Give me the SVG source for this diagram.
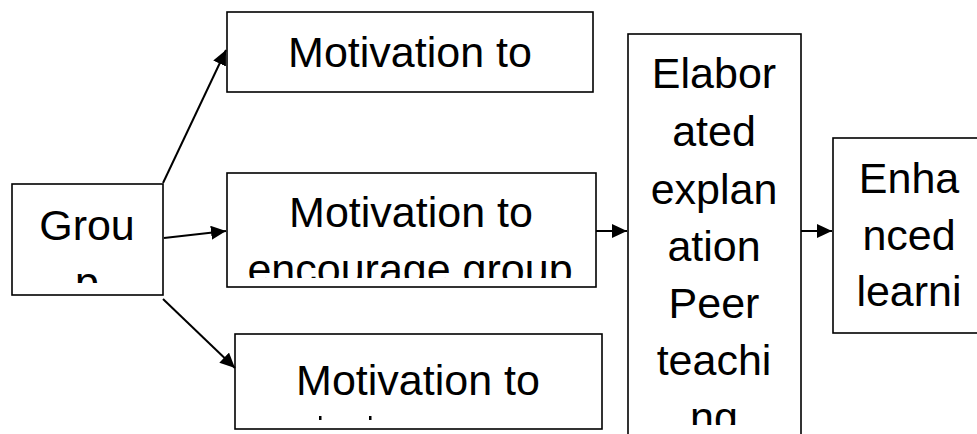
<svg xmlns="http://www.w3.org/2000/svg" width="977" height="434" viewBox="0 0 977 434">
<style>
.box{fill:#fff;stroke:#000;stroke-width:1.6}
.t{font-family:"Liberation Sans",Arial,sans-serif;font-size:43px;fill:#000;text-anchor:middle}
.c{stroke:#000;stroke-width:2;fill:none}
</style>
<defs>
<marker id="ah" markerUnits="userSpaceOnUse" markerWidth="16" markerHeight="14" refX="15" refY="7" orient="auto">
<path d="M0,0 L15,7 L0,14 z" fill="#000"/>
</marker>
<clipPath id="cg"><rect x="12" y="184" width="151" height="99"/></clipPath>
<clipPath id="c1"><rect x="227" y="12" width="366" height="75"/></clipPath>
<clipPath id="c2"><rect x="227" y="173" width="369" height="105"/></clipPath>
<clipPath id="c3"><rect x="235" y="334" width="367" height="86"/></clipPath>
<clipPath id="ce"><rect x="628" y="34" width="173" height="391"/></clipPath>
<clipPath id="ch"><rect x="833" y="138" width="152" height="190"/></clipPath>
</defs>
<rect width="977" height="434" fill="#fff"/>
<g id="group">
<rect class="box" x="12" y="184" width="151" height="111"/>
<g clip-path="url(#cg)"><text class="t" x="87" y="240">Grou</text><text class="t" x="87" y="297">p</text></g>
</g>
<g id="motivation-1">
<rect class="box" x="227" y="12" width="366" height="80"/>
<g clip-path="url(#c1)"><text class="t" x="410" y="67">Motivation to</text></g>
</g>
<g id="motivation-2">
<rect class="box" x="227" y="173" width="369" height="114"/>
<g clip-path="url(#c2)"><text class="t" x="411" y="227">Motivation to</text><text class="t" x="410" y="284">encourage group</text></g>
</g>
<g id="motivation-3">
<rect class="box" x="235" y="334" width="367" height="95"/>
<g clip-path="url(#c3)"><text class="t" x="418" y="395">Motivation to</text></g>
<rect x="319" y="416" width="2.5" height="4" fill="#000"/>
<rect x="369" y="416" width="2.5" height="4" fill="#000"/>
</g>
<g id="elaborated">
<rect class="box" x="628" y="34" width="173" height="410"/>
<g clip-path="url(#ce)">
<text class="t" x="714" y="88">Elabor</text>
<text class="t" x="714" y="146">ated</text>
<text class="t" x="714" y="204">explan</text>
<text class="t" x="714" y="261">ation</text>
<text class="t" x="714" y="318">Peer</text>
<text class="t" x="714" y="375">teachi</text>
<text class="t" x="714" y="432">ng</text>
</g>
</g>
<g id="enhanced">
<rect class="box" x="833" y="138" width="160" height="195"/>
<g clip-path="url(#ch)">
<text class="t" x="909" y="193">Enha</text>
<text class="t" x="909" y="250">nced</text>
<text class="t" x="909" y="306">learni</text>
</g>
</g>
<g id="connectors">
<line class="c" x1="163" y1="183" x2="226" y2="50" marker-end="url(#ah)"/>
<line class="c" x1="164" y1="238" x2="226" y2="231" marker-end="url(#ah)"/>
<line class="c" x1="163" y1="299" x2="235" y2="368" marker-end="url(#ah)"/>
<line class="c" x1="596" y1="231" x2="627" y2="231" marker-end="url(#ah)"/>
<line class="c" x1="801" y1="231" x2="832" y2="231" marker-end="url(#ah)"/>
</g>
</svg>
